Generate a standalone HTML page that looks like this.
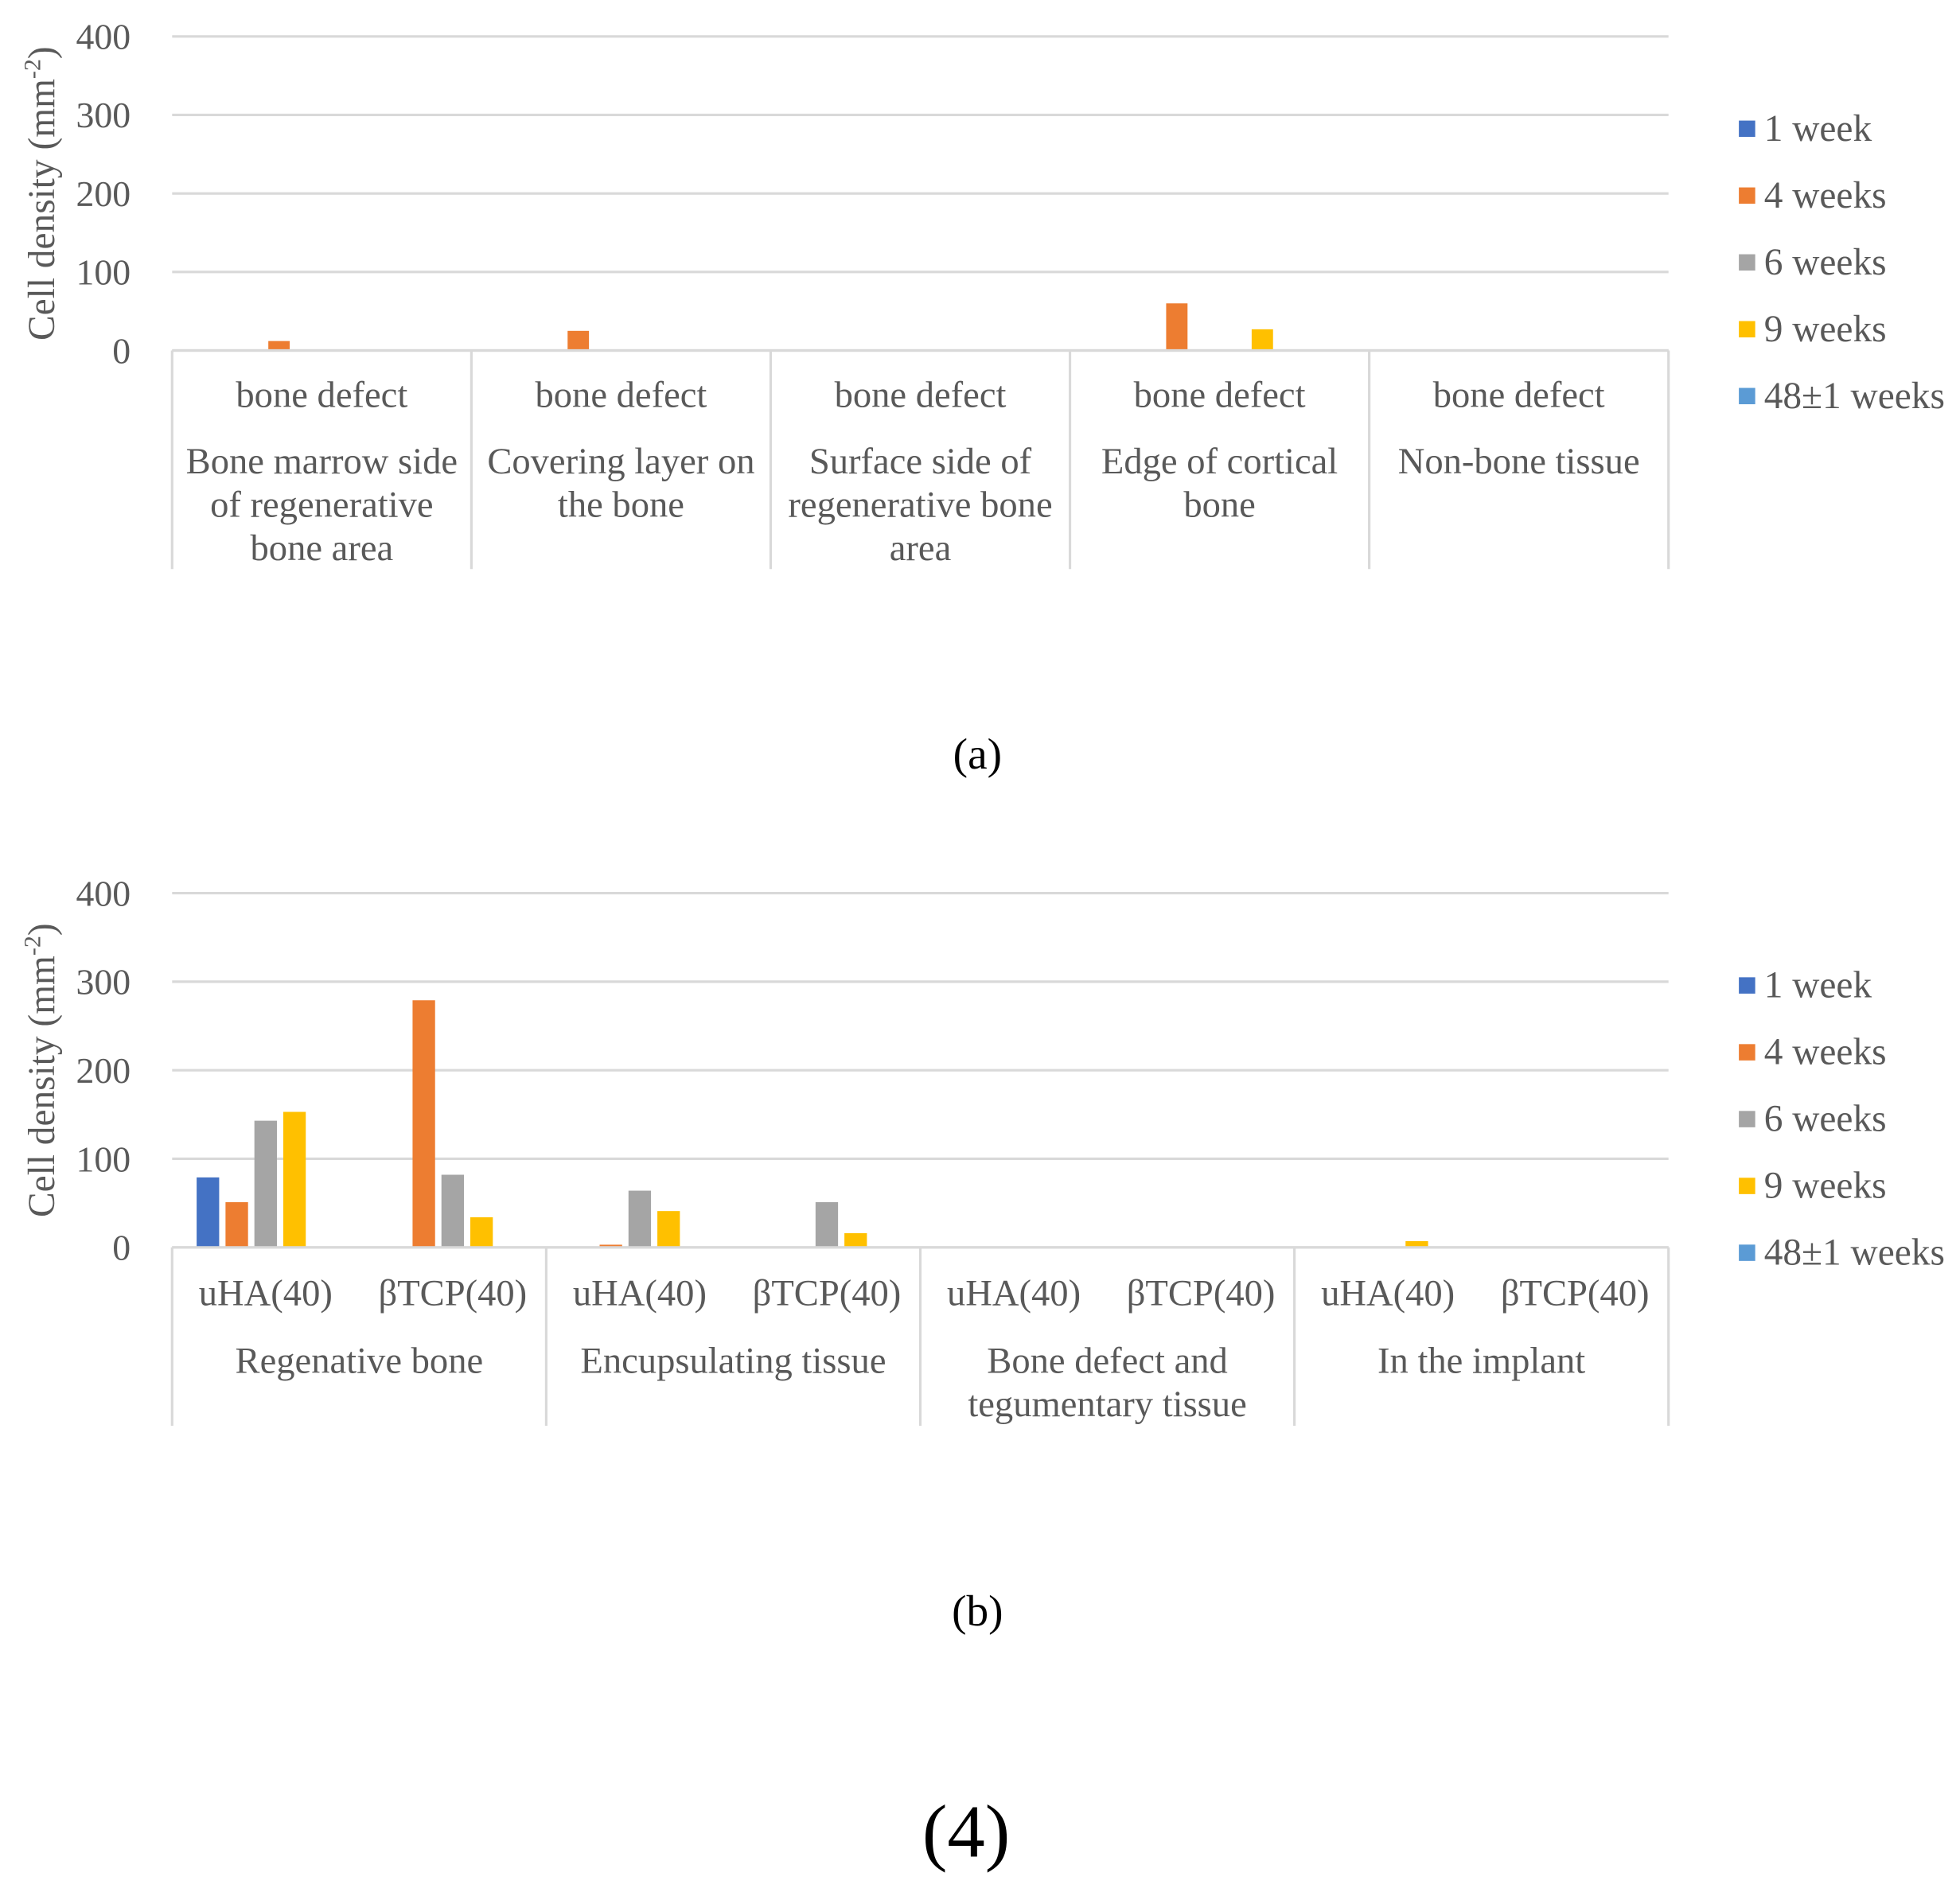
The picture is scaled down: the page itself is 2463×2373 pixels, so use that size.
<!DOCTYPE html>
<html><head><meta charset="utf-8"><style>
html,body{margin:0;padding:0;background:#fff;}
svg{display:block;}
text{font-family:"Liberation Serif",serif;fill:#595959;}
</style></head><body>
<svg id="fig" width="2463" height="2373" viewBox="0 0 1560 1503" preserveAspectRatio="none" xmlns="http://www.w3.org/2000/svg">
<text x="778" y="612" font-size="35" text-anchor="middle" style="fill:#000">(a)</text>
<text x="778" y="1294" font-size="35" text-anchor="middle" style="fill:#000">(b)</text>
<text x="769" y="1478" font-size="60" text-anchor="middle" style="fill:#000">(4)</text>
</svg>
<script>
const seriesNames=["1 week","4 weeks","6 weeks","9 weeks","48±1 weeks"];
const seriesColors=["#4472C4","#ED7D31","#A5A5A5","#FFC000","#5B9BD5"];
const yTicks=[0,100,200,300,400];
// Chart A
const catsA=[["Bone marrow side","of regenerative","bone area"],["Covering layer on","the bone"],["Surface side of","regenerative bone","area"],["Edge of cortical","bone"],["Non-bone tissue"]];
const a1wk=[0,0,0,0,0];
const a4wk=[12,25,0,60,0];
const a6wk=[0,0,0,0,0];
const a9wk=[0,0,0,27,0];
const a48wk=[0,0,0,0,0];
// Chart B
const subB=["uHA(40)","βTCP(40)","uHA(40)","βTCP(40)","uHA(40)","βTCP(40)","uHA(40)","βTCP(40)"];
const groupsB=[["Regenative bone"],["Encupsulating tissue"],["Bone defect and","tegumentary tissue"],["In the implant"]];
const b1wk=[79,0,0,0,0,0,0,0];
const b4wk=[51,279,3,0,0,0,0,0];
const b6wk=[143,82,64,51,0,0,0,0];
const b9wk=[153,34,41,16,0,0,7,0];
const b48wk=[0,0,0,0,0,0,0,0];

const svg=document.getElementById('fig');
const NS="http://www.w3.org/2000/svg";
function el(tag,attrs,txt){const e=document.createElementNS(NS,tag);for(const k in attrs)e.setAttribute(k,attrs[k]);if(txt!==undefined)e.textContent=txt;svg.appendChild(e);return e;}

function drawChart(o){
  const x0=137,x1=1328;
  const y=v=>o.y0-(v/400)*(o.y0-o.y400);
  yTicks.forEach(t=>{
    const g=el('line',{x1:x0,x2:x1,y1:y(t),y2:y(t),stroke:'#D9D9D9','stroke-width':2});
    
    
    const tl=el('text',{x:104,y:y(t)+10,'font-size':29,'text-anchor':'end'},String(t));
    
    
  });
  const yt=el('text',{transform:`translate(43,${(o.y0+o.y400)/2}) rotate(-90)`,'font-size':30,'text-anchor':'middle'});
  
  
  yt.innerHTML='Cell density (mm<tspan dy="-11" font-size="19">-2</tspan><tspan dy="11">)</tspan>';
  const n=o.series[0].length;
  const cw=(x1-x0)/n;
  const step=cw*o.stepFrac, bw=step*o.barFrac;
  o.series.forEach((arr,s)=>{
    arr.forEach((v,i)=>{
      if(v<=0)return;
      const cx=x0+cw*(i+0.5)+(s-2)*step;
      const r=el('rect',{x:cx-bw/2,y:y(v),width:bw,height:y(0)-y(v),fill:seriesColors[s]});
      
      
    });
  });
  const ax=el('line',{x1:x0,x2:x1,y1:y(0),y2:y(0),stroke:'#D9D9D9','stroke-width':2});
  
  
  o.dividers.forEach((d,k)=>{
    const ln=el('line',{x1:x0+d*cw,x2:x0+d*cw,y1:y(0),y2:o.divBottom,stroke:'#D9D9D9','stroke-width':2});
    
    
  });
  o.labels(cw,x0);
  seriesNames.forEach((nm,s)=>{
    const ly=o.legY+s*53.2;
    const sq=el('rect',{x:1384,y:ly-16,width:13,height:13,fill:seriesColors[s]});
    
    
    const t=el('text',{x:1404,y:ly,'font-size':30},nm);
    
    
  });
}

drawChart({id:'a',y0:279,y400:29,series:[a1wk,a4wk,a6wk,a9wk,a48wk],stepFrac:34/238,barFrac:0.5,
  dividers:[0,1,2,3,4,5],divBottom:453,legY:112,
  labels:(cw,x0)=>{
    catsA.forEach((lines,i)=>{
      const cx=x0+cw*(i+0.5);
      const t=el('text',{x:cx,y:324,'font-size':29.5,'text-anchor':'middle'},'bone defect');
      
      
      lines.forEach((ln,j)=>{
        const u=el('text',{x:cx,y:377+j*34.5,'font-size':29.5,'text-anchor':'middle'},ln);
        
        
      });
    });
  }});

drawChart({id:'b',y0:993,y400:711,series:[b1wk,b4wk,b6wk,b9wk,b48wk],stepFrac:23/149,barFrac:0.78,
  dividers:[0,2,4,6,8],divBottom:1135,legY:794,
  labels:(cw,x0)=>{
    subB.forEach((s,i)=>{
      const t=el('text',{x:x0+cw*(i+0.5),y:1039,'font-size':29.5,'text-anchor':'middle'},s);
      
      
    });
    groupsB.forEach((lines,g)=>{
      lines.forEach((ln,j)=>{
        const t=el('text',{x:x0+cw*(2*g+1),y:1093+j*34.5,'font-size':29.5,'text-anchor':'middle'},ln);
        
        
      });
    });
  }});
</script>
</body></html>
